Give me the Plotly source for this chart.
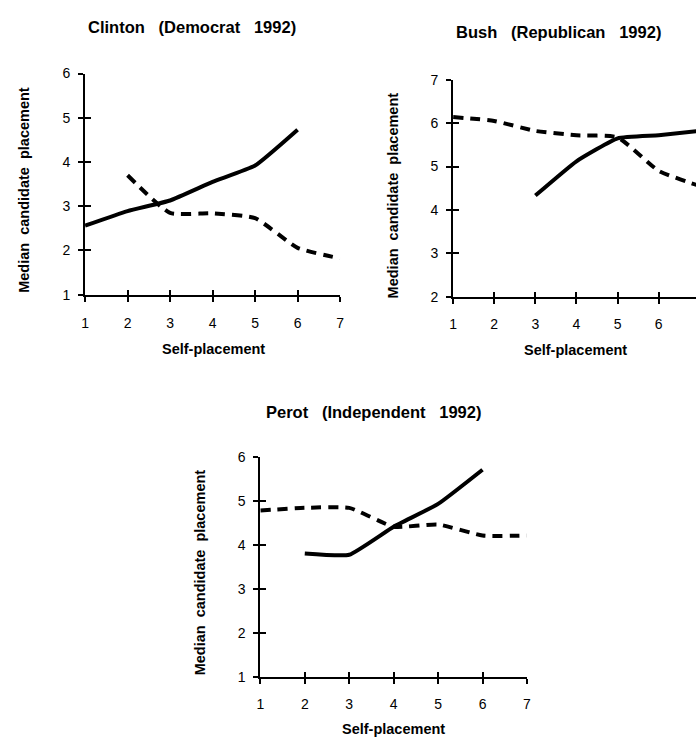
import plotly.graph_objects as go

# Self-placement scale (1 = liberal ... 7 = conservative)
scale = [1, 2, 3, 4, 5, 6, 7]

# Median placement of each candidate, by respondents' own placement.
# "solid" and "dashed" are the two respondent groups drawn in each panel.
clinton_solid = [2.56, 2.89, 3.13, 3.55, 3.92, 4.73, None]
clinton_dashed = [None, 3.70, 2.85, 2.84, 2.73, 2.06, 1.82]

bush_solid = [None, None, 4.33, 5.12, 5.65, 5.72, 5.82]
bush_dashed = [6.14, 6.05, 5.82, 5.72, 5.67, 4.90, 4.55]

perot_solid = [None, 3.81, 3.78, 4.42, 4.94, 5.72, None]
perot_dashed = [4.79, 4.85, 4.85, 4.42, 4.47, 4.22, 4.22]

titles = ["Clinton   (Democrat   1992)", "Bush   (Republican   1992)",
          "Perot   (Independent   1992)"]
x_title = "Self-placement"
y_title = "Median  candidate  placement"

W, H = 700, 745
FONT = "Liberation Sans, Arial, sans-serif"


def px(x):
    return x / W


def py(y):
    return 1 - y / H


fig = go.Figure()

panels = [
    # (solid, dashed, x-axis id, y-axis id)
    (clinton_solid, clinton_dashed, "x", "y"),
    (bush_solid, bush_dashed, "x2", "y2"),
    (perot_solid, perot_dashed, "x3", "y3"),
]

for solid, dashed, xa, ya in panels:
    fig.add_trace(go.Scatter(
        x=scale, y=dashed, xaxis=xa, yaxis=ya, mode="lines",
        line=dict(color="black", width=4, dash="10px,7px", shape="spline", smoothing=0.5),
        connectgaps=False, hoverinfo="skip", showlegend=False))
    fig.add_trace(go.Scatter(
        x=scale, y=solid, xaxis=xa, yaxis=ya, mode="lines",
        line=dict(color="black", width=4, shape="spline", smoothing=0.4),
        connectgaps=False, hoverinfo="skip", showlegend=False))

# Empty traces that bring up the overlay axes carrying the inner half of each tick
for i, (xa, ya) in enumerate([("x", "y"), ("x2", "y2"), ("x3", "y3")]):
    fig.add_trace(go.Scatter(x=[], y=[], xaxis=f"x{4 + i}", yaxis=ya,
                             hoverinfo="skip", showlegend=False))
    fig.add_trace(go.Scatter(x=[], y=[], xaxis=xa, yaxis=f"y{4 + i}",
                             hoverinfo="skip", showlegend=False))

tickfont = dict(family=FONT, size=14, color="black")

# Plot areas in pixels: (left, right, top, bottom), with axis ranges
areas = [
    ((82, 340, 67, 293), [1, 7], [1, 6], [1, 2, 3, 4, 5, 6]),
    ((454.3, 700, 73.3, 295), [1, 1 + (700 - 454.3) / 41.6], [2, 7], [2, 3, 4, 5, 6, 7]),
    ((259.3, 529, 459.3, 683.3), [1, 7], [1, 6], [1, 2, 3, 4, 5, 6]),
]

layout = dict(
    width=W, height=H,
    margin=dict(l=0, r=0, t=0, b=0),
    paper_bgcolor="white", plot_bgcolor="white",
    showlegend=False,
)

for i, ((l, r, t, b), xr, yr, yticks) in enumerate(areas):
    n = "" if i == 0 else str(i + 1)
    xd = [px(l), px(r)]
    yd = [py(b), py(t)]
    common_x = dict(domain=xd, range=xr, tickvals=scale, showgrid=False, zeroline=False,
                    tickcolor="black", tickwidth=2)
    common_y = dict(domain=yd, range=yr, tickvals=yticks, showgrid=False, zeroline=False,
                    tickcolor="black", tickwidth=2)
    layout[f"xaxis{n}"] = dict(
        common_x, anchor=f"y{n}", showline=True, linecolor="black", linewidth=2,
        ticks="outside", ticklen=5, tickfont=tickfont, ticklabelstandoff=9)
    layout[f"yaxis{n}"] = dict(
        common_y, anchor=f"x{n}", showline=True, linecolor="black", linewidth=2,
        ticks="outside", ticklen=5, tickfont=tickfont, ticklabelstandoff=5)
    # overlay axes: inner half of the crossing ticks
    layout[f"xaxis{4 + i}"] = dict(
        common_x, overlaying=f"x{n}", anchor=f"y{n}", side="bottom", showline=False,
        ticks="inside", ticklen=5, showticklabels=False)
    layout[f"yaxis{4 + i}"] = dict(
        common_y, overlaying=f"y{n}", anchor=f"x{n}", side="left", showline=False,
        ticks="inside", ticklen=6, showticklabels=False)

title_font = dict(family=FONT, size=16.5, color="black", weight="bold")
label_font = dict(family=FONT, size=14.5, color="black", weight="bold")

annotations = []
for text, (x, y) in zip(titles, [(190, 19), (561, 25), (374, 413)]):
    annotations.append(dict(text=text, x=px(x), y=py(y), xref="paper", yref="paper",
                            xanchor="center", yanchor="middle", showarrow=False,
                            font=title_font))
for (x, y) in [(212, 348), (578, 350), (394, 737)]:
    annotations.append(dict(text=x_title, x=px(x), y=py(y), xref="paper", yref="paper",
                            xanchor="center", yanchor="middle", showarrow=False,
                            font=label_font))
for (x, y) in [(20, 186), (393, 192), (198, 577)]:
    annotations.append(dict(text=y_title, x=px(x), y=py(y), xref="paper", yref="paper",
                            xanchor="center", yanchor="middle", showarrow=False,
                            textangle=-90, font=label_font))
layout["annotations"] = annotations

fig.update_layout(**layout)
fig.write_html("out.html")
